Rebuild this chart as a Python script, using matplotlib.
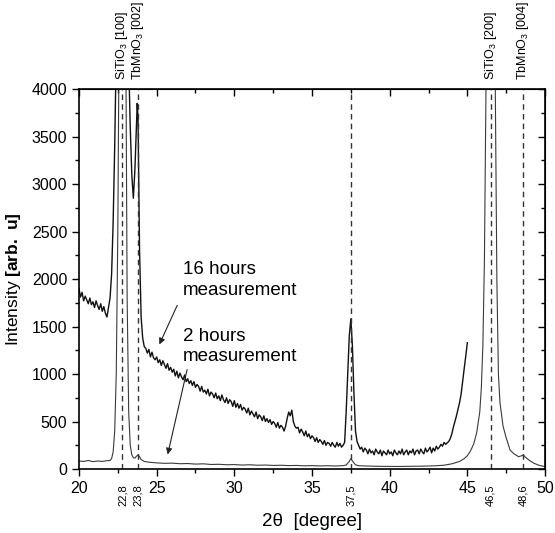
import numpy as np
import matplotlib
matplotlib.use("Agg")
import matplotlib.pyplot as plt
from matplotlib.ticker import MultipleLocator

plt.rcParams['font.family'] = ['Liberation Sans', 'DejaVu Sans']
plt.rcParams['mathtext.fontset'] = 'custom'
plt.rcParams['mathtext.rm'] = 'Liberation Sans'
plt.rcParams['mathtext.bf'] = 'Liberation Sans:bold'

x_16h = [20.0, 20.1, 20.2, 20.3, 20.4, 20.5, 20.6, 20.7, 20.8, 20.9,
         21.0, 21.1, 21.2, 21.3, 21.4, 21.5, 21.6, 21.7, 21.8, 21.9,
         22.0, 22.1, 22.2, 22.3, 22.4, 22.6, 23.0, 23.2, 23.3, 23.4,
         23.5, 23.6, 23.7, 23.75, 23.8, 23.9, 24.0, 24.1, 24.2,
         24.3, 24.4, 24.5, 24.6, 24.7, 24.8, 24.9, 25.0, 25.1, 25.2,
         25.3, 25.4, 25.5, 25.6, 25.7, 25.8, 25.9, 26.0, 26.1, 26.2,
         26.3, 26.4, 26.5, 26.6, 26.7, 26.8, 26.9, 27.0, 27.1, 27.2,
         27.3, 27.4, 27.5, 27.6, 27.7, 27.8, 27.9, 28.0, 28.1, 28.2,
         28.3, 28.4, 28.5, 28.6, 28.7, 28.8, 28.9, 29.0, 29.1, 29.2,
         29.3, 29.4, 29.5, 29.6, 29.7, 29.8, 29.9, 30.0, 30.1, 30.2,
         30.3, 30.4, 30.5, 30.6, 30.7, 30.8, 30.9, 31.0, 31.1, 31.2,
         31.3, 31.4, 31.5, 31.6, 31.7, 31.8, 31.9, 32.0, 32.1, 32.2,
         32.3, 32.4, 32.5, 32.6, 32.7, 32.8, 32.9, 33.0, 33.1, 33.2,
         33.3, 33.4, 33.5, 33.6, 33.7, 33.8, 33.9, 34.0, 34.1, 34.2,
         34.3, 34.4, 34.5, 34.6, 34.7, 34.8, 34.9, 35.0, 35.1, 35.2,
         35.3, 35.4, 35.5, 35.6, 35.7, 35.8, 35.9, 36.0, 36.1, 36.2,
         36.3, 36.4, 36.5, 36.6, 36.7, 36.8, 36.9, 37.0, 37.1, 37.2,
         37.3, 37.4, 37.5, 37.6, 37.7, 37.8, 37.9, 38.0, 38.1, 38.2,
         38.3, 38.4, 38.5, 38.6, 38.7, 38.8, 38.9, 39.0, 39.1, 39.2,
         39.3, 39.4, 39.5, 39.6, 39.7, 39.8, 39.9, 40.0, 40.1, 40.2,
         40.3, 40.4, 40.5, 40.6, 40.7, 40.8, 40.9, 41.0, 41.1, 41.2,
         41.3, 41.4, 41.5, 41.6, 41.7, 41.8, 41.9, 42.0, 42.1, 42.2,
         42.3, 42.4, 42.5, 42.6, 42.7, 42.8, 42.9, 43.0, 43.1, 43.2,
         43.3, 43.4, 43.5, 43.6, 43.7, 43.8, 43.9, 44.0, 44.1, 44.2,
         44.3, 44.4, 44.5, 44.6, 44.7, 44.8, 44.9, 45.0]
y_16h = [1900, 1810, 1860, 1770, 1820, 1780, 1740, 1800, 1730, 1760,
         1700, 1770, 1720, 1680, 1740, 1660, 1710, 1640, 1600, 1700,
         1800, 2050, 2600, 3400, 4400, 5500, 5500, 4300, 3600, 3100,
         2850, 3150, 3600, 3850, 3700, 2300, 1600, 1380, 1290,
         1270, 1220, 1260, 1180, 1230, 1170, 1150, 1180, 1120, 1150,
         1090, 1140, 1100, 1060, 1110, 1040, 1070, 1020, 1050, 980,
         1030, 960, 1010, 970, 940, 990, 920, 950, 900, 930,
         880, 920, 860, 890, 870, 820, 870, 810, 830, 790,
         840, 770, 810, 790, 750, 800, 740, 770, 720, 780,
         730, 700, 750, 690, 730, 710, 660, 720, 650, 690,
         640, 680, 620, 650, 630, 590, 640, 570, 610, 580,
         550, 600, 530, 570, 550, 510, 560, 500, 530, 490,
         520, 470, 500, 480, 440, 490, 430, 460, 440, 400,
         450, 530, 600, 560, 620, 500, 450, 430, 440, 380,
         420, 390, 350, 400, 340, 370, 320, 350, 330, 290,
         330, 280, 310, 290, 260, 300, 250, 280, 270, 240,
         280, 250, 230, 280, 240, 270, 230, 250, 280, 600,
         1000, 1400, 1580, 1300, 800, 400, 290, 250, 210, 230,
         180, 220, 200, 160, 210, 170, 190, 150, 210, 180,
         160, 200, 140, 190, 170, 150, 200, 160, 180, 140,
         200, 170, 150, 190, 160, 210, 150, 180, 200, 150,
         190, 170, 210, 150, 190, 200, 160, 210, 180, 160,
         220, 180, 200, 230, 170, 220, 190, 240, 210, 230,
         260, 240, 280, 260, 275, 290, 320, 370, 440, 500,
         560, 630, 700, 790, 930, 1060, 1190, 1330]

# 2 hours measurement
x_2h = [20.0, 20.3, 20.6, 20.9, 21.2, 21.5, 21.8, 22.0, 22.1, 22.2,
        22.3, 22.4, 22.5, 22.6, 22.8, 23.0, 23.1, 23.2, 23.3, 23.4,
        23.5, 23.6, 23.7, 23.8, 23.9, 24.0, 24.2, 24.5, 25.0, 25.5,
        26.0, 26.5, 27.0, 27.5, 28.0, 28.5, 29.0, 29.5, 30.0, 30.5,
        31.0, 31.5, 32.0, 32.5, 33.0, 33.5, 34.0, 34.5, 35.0, 35.5,
        36.0, 36.5, 37.0, 37.2, 37.4, 37.5, 37.6, 37.8, 38.0, 38.5,
        39.0, 39.5, 40.0, 40.5, 41.0, 41.5, 42.0, 42.5, 43.0, 43.5,
        44.0, 44.5, 44.8, 45.0, 45.2, 45.4, 45.6, 45.8, 45.9, 46.0,
        46.1, 46.2, 46.35, 46.5, 46.65, 46.8, 46.9, 47.0, 47.1, 47.3,
        47.5, 47.75, 48.0, 48.3, 48.5, 48.6, 48.7, 49.0, 49.3, 49.6,
        50.0]
y_2h = [85, 80, 90, 78, 85, 80, 88, 90, 110, 180,
        400, 1000, 2500, 5000, 9000, 5000, 1800, 600, 250, 150,
        120, 115, 135, 150, 130, 100, 80, 72, 65, 60,
        62, 56, 58, 52, 55, 48, 50, 45, 47, 42,
        45, 40, 42, 38, 40, 36, 38, 34, 36, 33,
        35, 32, 36, 42, 80, 110, 85, 45, 35, 32,
        30, 28, 28, 27, 28, 29, 30, 32, 35, 40,
        55, 80, 110, 140, 190, 260, 380, 600, 850, 1300,
        2200, 4000, 8000, 12000, 8000, 4000, 2000, 1000, 700, 450,
        330, 200, 160, 130, 140, 150, 130, 90, 60, 40,
        25]

# reference lines and labels
peak_pos = [22.8, 23.8, 37.5, 46.5, 48.6]
peak_labels = ['22,8', '23,8', '37,5', '46,5', '48,6']
top_pos = [22.8, 23.8, 46.5, 48.6]
top_labels = ['SiTiO$_3$ [100]', 'TbMnO$_3$ [002]', 'SiTiO$_3$ [200]', 'TbMnO$_3$ [004]']

fig = plt.figure(figsize=(5.55, 5.33), dpi=100)
ax = fig.add_axes([0.1423, 0.12, 0.8397, 0.713])

ax.plot(x_2h, y_2h, color='#3a3a3a', lw=0.8)
ax.plot(x_16h, y_16h, color='#111111', lw=1.0)

for p in peak_pos:
    ax.axvline(p, color='#333333', lw=1.0, ls=(0, (4, 3)))

ax.set_xlim(20, 50)
ax.set_ylim(0, 4000)
ax.xaxis.set_major_locator(MultipleLocator(5))
ax.xaxis.set_minor_locator(MultipleLocator(2.5))
ax.yaxis.set_major_locator(MultipleLocator(500))
ax.yaxis.set_minor_locator(MultipleLocator(250))
ax.tick_params(which='both', direction='out', labelsize=11.5, width=1.0,
               top=False, right=False)
ax.tick_params(which='major', length=5)
ax.tick_params(which='minor', length=3)
for s in ax.spines.values():
    s.set_linewidth(1.2)

# inward ticks on the top and right sides
sec_x = ax.secondary_xaxis('top')
sec_x.xaxis.set_major_locator(MultipleLocator(5))
sec_x.xaxis.set_minor_locator(MultipleLocator(2.5))
sec_x.tick_params(which='both', direction='in', labeltop=False, width=1.0)
sec_x.tick_params(which='major', length=5)
sec_x.tick_params(which='minor', length=3)
sec_y = ax.secondary_yaxis('right')
sec_y.yaxis.set_major_locator(MultipleLocator(500))
sec_y.yaxis.set_minor_locator(MultipleLocator(250))
sec_y.tick_params(which='both', direction='in', labelright=False, width=1.0)
sec_y.tick_params(which='major', length=5)
sec_y.tick_params(which='minor', length=3)

# peak positions below the axis
for p, lab in zip(peak_pos, peak_labels):
    ax.text(p, -0.04, lab, transform=ax.get_xaxis_transform(), rotation=90,
            ha='center', va='top', fontsize=8)

# phase labels above the axis
for p, lab in zip(top_pos, top_labels):
    ax.text(p, 1.025, lab, transform=ax.get_xaxis_transform(), rotation=90,
            ha='center', va='bottom', fontsize=9)

ax.set_xlabel('2θ  [degree]', fontsize=13.5, labelpad=12)
ax.set_ylabel('Intensity $\\mathbf{[arb.\\ u]}$', fontsize=12.5, labelpad=6)

ax.text(26.7, 1990, '16 hours\nmeasurement', fontsize=13.5, va='center',
        linespacing=1.3)
ax.text(26.7, 1290, '2 hours\nmeasurement', fontsize=13.5, va='center',
        linespacing=1.3)
ax.annotate('', xy=(25.1, 1285), xytext=(26.4, 1750),
            arrowprops=dict(arrowstyle='-|>', color='#222222', lw=0.8,
                            mutation_scale=9))
ax.annotate('', xy=(25.67, 125), xytext=(27.0, 1075),
            arrowprops=dict(arrowstyle='-|>', color='#222222', lw=0.8,
                            mutation_scale=9))

fig.savefig('out.png', dpi=100)
